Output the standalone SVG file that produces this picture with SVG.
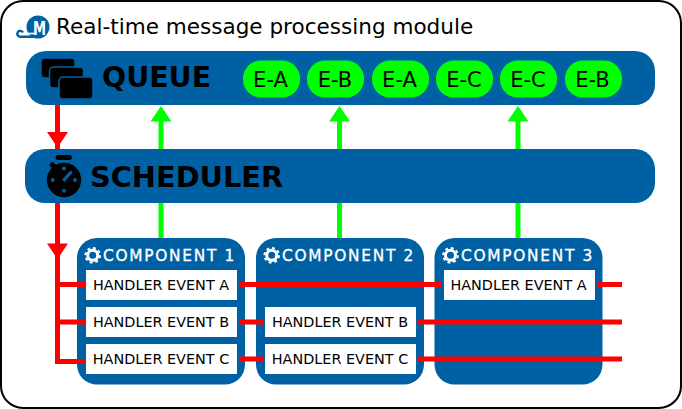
<svg xmlns="http://www.w3.org/2000/svg" width="682" height="409" viewBox="0 0 682 409">
<style>
text{font-family:"DejaVu Sans",sans-serif}
.band{fill:#0060a4}
.card{fill:#0060a4}
.h{fill:#fff}
.ht{font-size:14.4px;fill:#000;text-anchor:middle}
.ct{font-size:15.4px;fill:#fff;stroke:#fff;stroke-width:.35px;letter-spacing:1.7px}
.big{font-size:28.4px;font-weight:bold;fill:#000}
.pill{fill:#00ff00}
.pt{font-size:21px;fill:#000;text-anchor:middle}
.r{stroke:#ff0000;stroke-width:5;fill:none}
.g{stroke:#00ff00;stroke-width:5;fill:none}
.ra{fill:#ff0000}.ga{fill:#00ff00}
</style>
<defs>
<g id="gear"><circle r="5" fill="none" stroke="#fff" stroke-width="3"/><circle r="7.300" fill="none" stroke="#fff" stroke-width="2" stroke-dasharray="2.900 2.840"/></g>
</defs>
<rect id="frame" x="1" y="1" width="680" height="407" rx="22" fill="#fff" stroke="#000" stroke-width="2"/>
<g id="logo">
<circle cx="38" cy="27" r="11.500" fill="#0060a4"/>
<path d="M23 32.500A3 3 0 1 0 20 36.800H34" fill="none" stroke="#0060a4" stroke-width="2.400"/>
<path d="M27 33.500H35" fill="none" stroke="#fff" stroke-width="1.600"/>
<text x="39.500" y="35" font-size="20" font-weight="bold" fill="#fff" text-anchor="middle" textLength="13" lengthAdjust="spacingAndGlyphs" style="font-family:'DejaVu Sans Condensed','DejaVu Sans',sans-serif">M</text>
</g>
<text id="title" x="56" y="34" font-size="21.55" fill="#000">Real-time message processing module</text>
<g id="queue">
<rect class="band" x="26" y="51" width="629" height="54" rx="20"/>
<g fill="#000" stroke="#0060a4" stroke-width="1.5">
<rect x="41" y="58" width="34" height="20" rx="4"/>
<rect x="49.500" y="67" width="34" height="21" rx="4"/>
<rect x="59" y="77" width="34" height="22" rx="4"/>
</g>
<text class="big" x="102" y="87">QUEUE</text>
</g>
<g id="event-1"><rect class="pill" x="243" y="60.500" width="57" height="37" rx="18"/><text class="pt" x="270.500" y="87">E-A</text></g>
<g id="event-2"><rect class="pill" x="307" y="60.500" width="57" height="37" rx="18"/><text class="pt" x="335" y="87">E-B</text></g>
<g id="event-3"><rect class="pill" x="372" y="60.500" width="57" height="37" rx="18"/><text class="pt" x="399.500" y="87">E-A</text></g>
<g id="event-4"><rect class="pill" x="436" y="60.500" width="57" height="37" rx="18"/><text class="pt" x="464" y="87">E-C</text></g>
<g id="event-5"><rect class="pill" x="500" y="60.500" width="57" height="37" rx="18"/><text class="pt" x="528" y="87">E-C</text></g>
<g id="event-6"><rect class="pill" x="565" y="60.500" width="57" height="37" rx="18"/><text class="pt" x="592.500" y="87">E-B</text></g>
<g id="scheduler">
<rect class="band" x="25" y="149" width="630" height="54" rx="20"/>
<g fill="#000">
<circle cx="64" cy="180" r="17.200"/>
<rect x="55.500" y="155" width="16.500" height="5" rx="2.400"/>
<rect x="49.500" y="163" width="7" height="5" rx="2" transform="rotate(40 53 165.500)"/>
</g>
<g fill="#0060a4">
<circle cx="64" cy="168.500" r="2"/><circle cx="64" cy="190.700" r="2"/><circle cx="52.700" cy="180" r="2"/><circle cx="75" cy="180" r="2"/>
<path d="M62 179.500L70.500 170.500L72.700 172.500L64.500 182Z"/>
</g>
<text class="big" style="font-size:28.800px" x="90" y="187">SCHEDULER</text>
</g>
<g id="component-1">
<rect class="card" x="77" y="238" width="168" height="146.500" rx="20"/>
<use href="#gear" x="92.700" y="255.300"/>
<text class="ct" x="103" y="261">COMPONENT 1</text>
<rect class="h" x="86" y="270" width="151" height="30"/><text class="ht" x="161" y="290">HANDLER EVENT A</text>
<rect class="h" x="86" y="307" width="151" height="30"/><text class="ht" x="161" y="327">HANDLER EVENT B</text>
<rect class="h" x="86" y="344" width="151" height="30"/><text class="ht" x="161" y="364">HANDLER EVENT C</text>
</g>
<g id="component-2">
<rect class="card" x="256" y="238" width="168" height="146.500" rx="20"/>
<use href="#gear" x="271.700" y="255.300"/>
<text class="ct" x="282" y="261">COMPONENT 2</text>
<rect class="h" x="265" y="307" width="151" height="30"/><text class="ht" x="340" y="327">HANDLER EVENT B</text>
<rect class="h" x="265" y="344" width="151" height="30"/><text class="ht" x="340" y="364">HANDLER EVENT C</text>
</g>
<g id="component-3">
<rect class="card" x="434.500" y="238" width="168" height="146.500" rx="20"/>
<use href="#gear" x="450.500" y="255.300"/>
<text class="ct" x="461" y="261">COMPONENT 3</text>
<rect class="h" x="444" y="270" width="151" height="30"/><text class="ht" x="518.500" y="290">HANDLER EVENT A</text>
</g>
<g id="connectors">
<path class="r" d="M57.500 105V150M57.500 203V361.500H85M55 284.500H85M55 322H85"/>
<path class="r" d="M239 284.500H442M597 284.500H622M239 322H264M239 359H264M417 322H622M417 359H622"/>
<path class="ra" d="M47 132H68L57.500 147.500ZM47 243.500H68L57.500 259Z"/>
<path class="g" d="M161 120V149M161 203V238M339.500 120V149M339.500 203V238M518 120V149M518 203V238"/>
<path class="ga" d="M150.500 121.500H171.500L161 106ZM329 121.500H350L339.500 106ZM507.500 121.500H528.500L518 106Z"/>
</g>
</svg>
